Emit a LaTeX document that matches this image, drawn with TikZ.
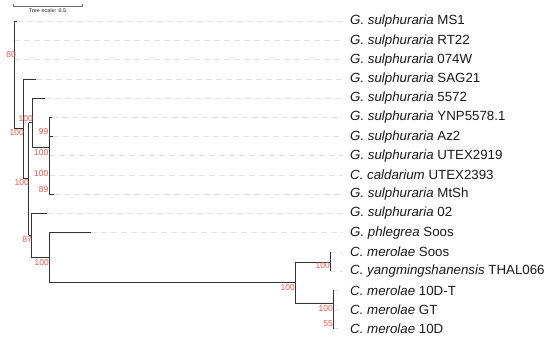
\documentclass[tikz,border=0pt]{standalone}
\usepackage{fontspec}
\setmainfont{Liberation Sans}
\begin{document}
\begin{tikzpicture}[x=1pt,y=-1pt,
  br/.style={draw={rgb,255:red,51;green,51;blue,51},line width=1pt},
  lead/.style={draw={rgb,255:red,225;green,225;blue,225},line width=0.8pt,dash pattern=on 6pt off 4pt},
  lbl/.style={anchor=west,inner sep=0pt,font=\fontsize{13.3}{14}\selectfont,text={rgb,255:red,25;green,25;blue,25}},
  bs/.style={anchor=east,inner sep=0pt,font=\fontsize{8.5}{9}\selectfont,text={rgb,255:red,230;green,85;blue,75}},
  pt/.style={inner sep=0pt,minimum size=0pt}]
\useasboundingbox (0,0) rectangle (550,337);
% scale bar
\coordinate (sb1) at (13,6);
\coordinate (sb2) at (82,6);
\draw[draw={rgb,255:red,110;green,110;blue,110},line width=0.8pt] ([yshift=2pt]sb1) -- (sb1) -- (sb2) -- ([yshift=2pt]sb2);
\node[inner sep=0pt,font=\bfseries\fontsize{5.4}{6}\selectfont,text={rgb,255:red,90;green,90;blue,90}] (sbt) at (47.5,10.5) {Tree scale: 0.5};
% leaf rows
\foreach \i/\nm/\tx/\ty in {
 0/MS1/16.5/{\textit{G. sulphuraria} MS1},
 1/RT22/14/{\textit{G. sulphuraria} RT22},
 2/W074/14/{\textit{G. sulphuraria} 074W},
 3/SAG/36/{\textit{G. sulphuraria} SAG21},
 4/F5572/45/{\textit{G. sulphuraria} 5572},
 5/YNP/52/{\textit{G. sulphuraria} YNP5578.1},
 6/Az/53/{\textit{G. sulphuraria} Az2},
 7/UT19/49/{\textit{G. sulphuraria} UTEX2919},
 8/UT93/49/{\textit{C. caldarium} UTEX2393},
 9/MtSh/54/{\textit{G. sulphuraria} MtSh},
 10/Z02/47/{\textit{G. sulphuraria} 02},
 11/Phl/91/{\textit{G. phlegrea} Soos},
 12/CmS/330/{\textit{C. merolae} Soos},
 13/Cy/330/{\textit{C. yangmingshanensis} THAL066},
 14/C10T/333/{\textit{C. merolae} 10D-T},
 15/CGT/333/{\textit{C. merolae} GT},
 16/C10D/333/{\textit{C. merolae} 10D}}{
  \coordinate (t\nm) at (\tx,{21.5+19.2*\i});
  \coordinate (e\nm) at (343,{21.5+19.2*\i});
  \node[lbl] (l\nm) at (350,{21.5+19.2*\i}) {\ty};
  \draw[lead] (t\nm) -- (e\nm);
}
% internal nodes
\coordinate (A) at (14,21.5);
\coordinate (Ab) at (14,128.5);
\coordinate (B) at (23,128.5);
\coordinate (C) at (28.5,179);
\coordinate (D) at (32,123);
\coordinate (E) at (49,148);
\coordinate (G) at (31,235.5);
\coordinate (H) at (49,257.5);
\coordinate (I) at (295,282);
\coordinate (J) at (330,262);
\coordinate (K) at (333,303);
% branches
\draw[br,line cap=rect] (tMS1) -- (A) -- (Ab) -- (B);
\draw[br] (tSAG) -| (B);
\draw[br] (B) |- (C);
\draw[br] (tSAG -| B) -- (B |- C);
\draw[br] (C |- D) -- (C |- G);
\draw[br] (C |- D) -- (D);
\draw[br] (C |- G) -- (G);
\draw[br] (tF5572) -| (D |- tF5572) -- (D |- E) -- (E);
\draw[br] (tYNP) -- (E |- tYNP) -- (E |- tMtSh) -- (tMtSh);
\draw[br] (E |- tAz) -- (tAz);
\draw[br] (tZ02) -- (G |- tZ02) -- (G |- H) -- (H);
\draw[br] (tPhl) -- (H |- tPhl) -- (H |- I) -- (I);
\draw[br] (I |- J) -- (I |- K);
\draw[br] (I |- J) -- (J);
\draw[br] (I |- K) -- (K);
\draw[br] (J |- tCmS) -- (J |- tCy);
\draw[br] (K |- tC10T) -- (K |- tC10D);
% bootstrap labels
\node[bs] (b80) at (16,55) {80};
\node[bs] (b1) at (33,119) {100};
\node[bs] (b2) at (24,133) {100};
\node[bs] (b3) at (48.5,132) {99};
\node[bs] (b4) at (48.5,153) {100};
\node[bs] (b5) at (48.5,174) {100};
\node[bs] (b6) at (48.5,190) {89};
\node[bs] (b7) at (29,183) {100};
\node[bs] (b8) at (32,240) {87};
\node[bs] (b9) at (49,263) {100};
\node[bs] (b10) at (295,288) {100};
\node[bs] (b11) at (330,266) {100};
\node[bs] (b12) at (333,309) {100};
\node[bs] (b13) at (333,324) {55};
\end{tikzpicture}
\end{document}
